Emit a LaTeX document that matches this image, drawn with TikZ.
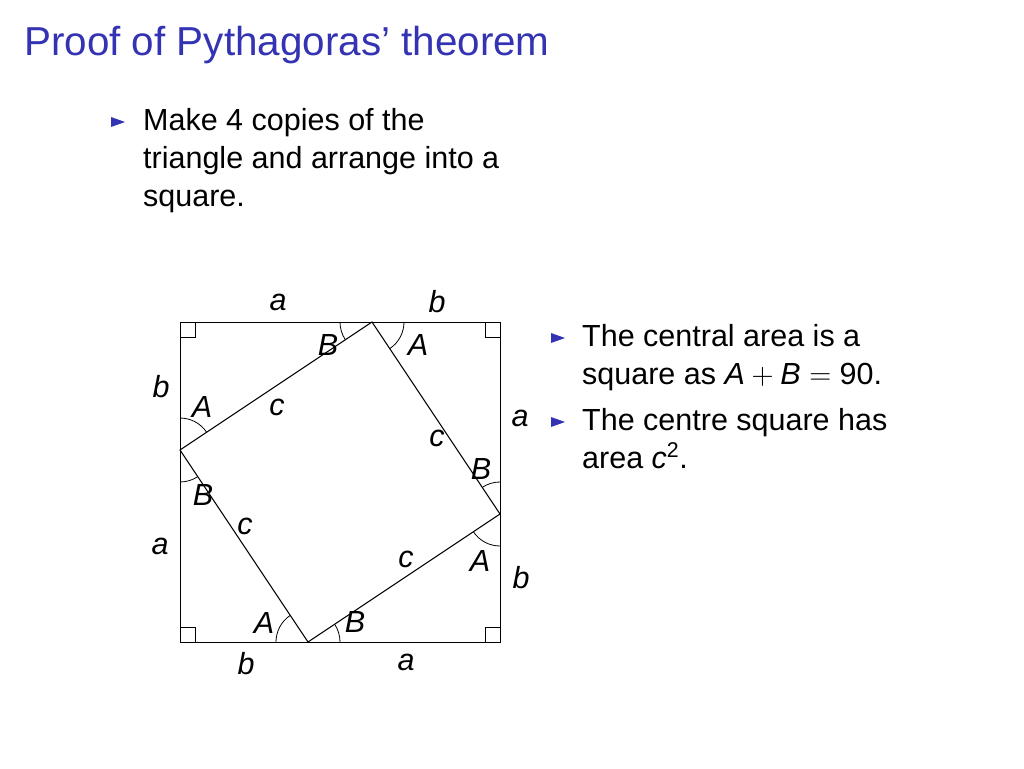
\documentclass[tikz,border=0pt]{standalone}
\usepackage{fix-cm}
\usepackage{fontspec}
\setmainfont{Liberation Sans}
\definecolor{structblue}{RGB}{51,51,179}
\begin{document}
\begin{tikzpicture}[x=1pt,y=-1pt,
  ttl/.style={font=\fontsize{40.4}{48}\selectfont, text=structblue, anchor=base west, inner sep=0pt},
  body/.style={font=\fontsize{30.5}{38.4}\selectfont, anchor=base west, inner sep=0pt},
  lbl/.style={font=\fontsize{30.5}{36}\selectfont\itshape, inner sep=0pt},
  edge/.style={line width=1pt, line join=miter},
  bul/.style={fill=structblue},
  ang/.style={line width=0.8pt}]
\useasboundingbox[fill=white] (0,0) rectangle (1024,768);

% title
\node[ttl] (title) at (24,56) {Proof of Pythagoras’ theorem};

% first bullet
\fill[bul] (111,117) -- (111,127) -- (125,122) -- cycle;
\node[body] (m1) at (143,130) {Make 4 copies of the};
\node[body] (m2) at (143,168.4) {triangle and arrange into a};
\node[body] (m3) at (143,206.8) {square.};

% right bullets
\fill[bul] (551,333) -- (551,343) -- (565,338) -- cycle;
\node[body] (r1) at (582,346) {The central area is a};
\node[body] (r2) at (582,384.4) {square as \textit{A}${}+{}$\textit{B}${}={}$90.};
\fill[bul] (551,417) -- (551,427) -- (565,422) -- cycle;
\node[body] (r3) at (582,430) {The centre square has};
\node[body] (r4) at (582,468.4) {area \textit{c}\textsuperscript{2}.};

% outer square corners
\coordinate (TL) at (180,322);
\coordinate (TR) at (500,322);
\coordinate (BR) at (500,642);
\coordinate (BL) at (180,642);
% inner square vertices
\coordinate (T) at (372,322);
\coordinate (R) at (500,514);
\coordinate (D) at (308,642);
\coordinate (L) at (180,450);

\draw[edge] (TL) -- (TR) -- (BR) -- (BL) -- cycle;
\draw[edge] (T) -- (R) -- (D) -- (L) -- cycle;

% right angle marks
\draw[ang] (TL) ++(15,0) -- ++(0,15) -- ++(-15,0);
\draw[ang] (TR) ++(-15,0) -- ++(0,15) -- ++(15,0);
\draw[ang] (BL) ++(0,-15) -- ++(15,0) -- ++(0,15);
\draw[ang] (BR) ++(-15,0) -- ++(0,-15) -- ++(15,0);

% angle arcs
\draw[ang] (T) ++(146.31:32) arc[start angle=146.31, end angle=180, radius=32];
\draw[ang] (T) ++(0:32) arc[start angle=0, end angle=56.31, radius=32];
\draw[ang] (R) ++(-123.69:32) arc[start angle=-123.69, end angle=-90, radius=32];
\draw[ang] (R) ++(90:32) arc[start angle=90, end angle=146.31, radius=32];
\draw[ang] (D) ++(180:32) arc[start angle=180, end angle=236.31, radius=32];
\draw[ang] (D) ++(326.31:32) arc[start angle=326.31, end angle=360, radius=32];
\draw[ang] (L) ++(-90:32) arc[start angle=-90, end angle=-33.69, radius=32];
\draw[ang] (L) ++(56.31:32) arc[start angle=56.31, end angle=90, radius=32];

% side labels
\node[lbl] (ta) at (278,302) {a};
\node[lbl] (tb) at (437,302) {b};
\node[lbl] (lb) at (161,387) {b};
\node[lbl] (la) at (160,546) {a};
\node[lbl] (bb) at (246,664) {b};
\node[lbl] (ba) at (406,662) {a};
\node[lbl] (ra) at (520,418) {a};
\node[lbl] (rb) at (521,578) {b};

% angle labels
\node[lbl] (tB) at (328,345) {B};
\node[lbl] (tA) at (418,345) {A};
\node[lbl] (lA) at (202,407) {A};
\node[lbl] (rB) at (481,469) {B};
\node[lbl] (lB) at (203,495) {B};
\node[lbl] (rA) at (480,561) {A};
\node[lbl] (dA) at (264,623) {A};
\node[lbl] (dB) at (355,622) {B};

% hypotenuse labels
\node[lbl] (c1) at (277,407) {c};
\node[lbl] (c2) at (437,438) {c};
\node[lbl] (c3) at (245,526) {c};
\node[lbl] (c4) at (406,559) {c};
\end{tikzpicture}
\end{document}
